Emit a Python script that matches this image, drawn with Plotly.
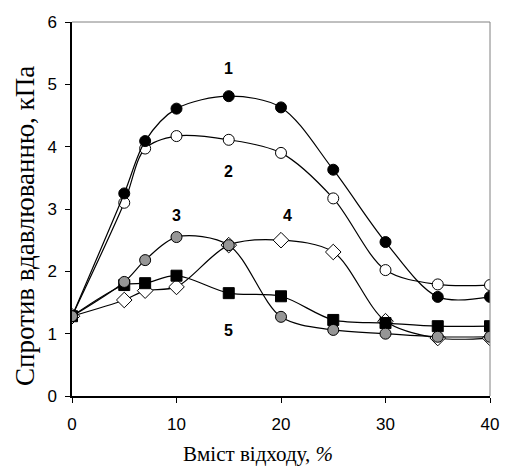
import plotly.graph_objects as go

x = [0, 5, 7, 10, 15, 20, 25, 30, 35, 40]
s1 = [1.28, 3.25, 4.09, 4.61, 4.81, 4.63, 3.63, 2.47, 1.59, 1.59]
s2 = [1.28, 3.10, 3.97, 4.17, 4.11, 3.90, 3.17, 2.02, 1.79, 1.78]
s3 = [1.28, 1.83, 2.18, 2.55, 2.42, 1.27, 1.06, 1.00, 0.95, 0.95]
s4 = [1.28, 1.54, 1.69, 1.75, 2.42, 2.50, 2.31, 1.20, 0.93, 0.93]
s5 = [1.28, 1.78, 1.81, 1.93, 1.65, 1.60, 1.22, 1.17, 1.12, 1.12]

labels = ["1", "2", "3", "4", "5"]
label_x = [15, 15, 10, 20.6, 15]
label_y = [5.25, 3.6, 2.9, 2.9, 1.05]

L, R, T, B = 72, 12, 22, 72
W, H = 511, 468
PW, PH = W - L - R, H - T - B

fig = go.Figure()

def add(ys, symbol, fill, size):
    fig.add_trace(go.Scatter(
        x=x, y=ys, mode="lines+markers",
        line=dict(color="black", width=1.2, shape="spline", smoothing=0.9),
        marker=dict(symbol=symbol, size=size, color=fill,
                    line=dict(color="black", width=1)),
        showlegend=False, hoverinfo="skip"))

add(s2, "circle", "white", 11)
add(s1, "circle", "black", 11)
add(s4, "diamond", "white", 12)
add(s5, "square", "black", 11)
add(s3, "circle", "#969696", 11)

for t, lx, ly in zip(labels, label_x, label_y):
    fig.add_annotation(x=lx, y=ly, text="<b>" + t + "</b>", showarrow=False,
                       font=dict(family="Liberation Sans, Arial", size=16, color="black"))

# axis titles
fig.add_annotation(xref="paper", yref="paper", x=(262 - L) / PW, y=(H - B - 467) / PH,
                   text="Вміст відходу, <i>%</i>", showarrow=False,
                   xanchor="center", yanchor="bottom", borderpad=0,
                   font=dict(family="Liberation Serif, Times New Roman", size=21, color="black"))
fig.add_annotation(xref="paper", yref="paper", x=(24 - L) / PW, y=(H - B - 226) / PH,
                   text="Спротив вдавлюванню, кПа", showarrow=False, textangle=-90,
                   xanchor="center", yanchor="middle",
                   font=dict(family="Liberation Serif, Times New Roman", size=27, color="black"))

# top and right grey frame
fig.add_shape(type="line", xref="x domain", yref="y domain", x0=0, x1=1, y0=1, y1=1,
              line=dict(color="#808080", width=1))
fig.add_shape(type="line", xref="x domain", yref="y domain", x0=1, x1=1, y0=0, y1=1,
              line=dict(color="#808080", width=1))

fig.update_xaxes(range=[0, 40], tickvals=[0, 10, 20, 30, 40], showgrid=False, zeroline=False,
                 showline=True, linecolor="black", linewidth=1.5,
                 ticks="outside", ticklen=5, tickcolor="black", tickwidth=1,
                 ticklabelstandoff=7,
                 tickfont=dict(family="Liberation Sans, Arial", size=17, color="black"))
fig.update_yaxes(range=[0, 6], tickvals=[0, 1, 2, 3, 4, 5, 6], showgrid=False, zeroline=False,
                 showline=True, linecolor="black", linewidth=1.5,
                 ticks="outside", ticklen=5, tickcolor="black", tickwidth=1,
                 ticklabelstandoff=5,
                 tickfont=dict(family="Liberation Sans, Arial", size=17, color="black"))

fig.update_layout(width=W, height=H, plot_bgcolor="white", paper_bgcolor="white",
                  margin=dict(l=L, r=R, t=T, b=B))

fig.write_html("out.html", config={"displayModeBar": False},
               post_script="document.body.style.margin='0';")
